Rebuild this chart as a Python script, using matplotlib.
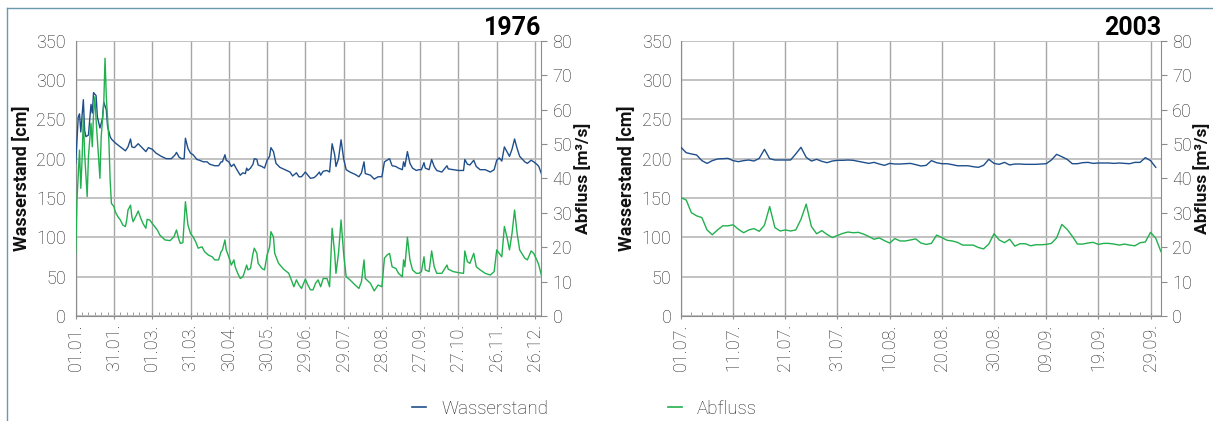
import matplotlib.pyplot as plt
from matplotlib.lines import Line2D
from matplotlib.ticker import MultipleLocator

plt.rcParams['font.family'] = ['Roboto', 'DejaVu Sans']
plt.rcParams['font.weight'] = 'light'

# ---- 1976: Tage ab 01.01. ----
tage_w_1976 = [0, 2, 3, 4, 6, 7, 8, 10, 12, 13, 14, 16, 17, 19, 21, 22, 24, 25, 27, 28,
               31, 35, 39, 41, 43, 44, 46, 49, 52, 55, 57, 60, 63, 67, 71, 75, 78, 79, 81, 83,
               85, 86, 88, 90, 92, 95, 97, 100, 103, 105, 109, 112, 114, 115, 117, 118, 120, 122, 124, 126,
               129, 131, 133, 134, 135, 137, 139, 140, 142, 143, 146, 148, 150, 152, 153, 155, 157, 160, 164, 168,
               170, 173, 175, 177, 180, 182, 184, 187, 189, 191, 192, 194, 197, 199, 201, 203, 204, 206, 208, 210,
               212, 215, 219, 222, 224, 226, 227, 231, 234, 237, 240, 242, 244, 246, 248, 251, 253, 256, 257, 258,
               260, 262, 264, 267, 269, 271, 273, 274, 277, 279, 281, 283, 287, 291, 292, 296, 300, 304, 305, 307,
               309, 312, 314, 317, 321, 325, 328, 330, 332, 334, 336, 338, 340, 342, 344, 346, 348, 352, 354, 357,
               359, 362, 363, 365]
wasserstand_1976 = [194, 253, 257, 234, 275, 236, 228, 230, 269, 258, 284, 280, 253, 239, 251, 272, 262, 241, 228, 225,
                    220, 215, 210, 215, 225, 215, 214, 219, 214, 209, 214, 212, 207, 203, 200, 200, 205, 208, 202, 200,
                    200, 226, 213, 207, 205, 199, 198, 196, 196, 193, 191, 191, 196, 196, 205, 198, 196, 190, 193, 187,
                    179, 182, 181, 188, 185, 188, 193, 200, 199, 192, 190, 188, 198, 203, 214, 209, 194, 189, 186, 183,
                    178, 182, 177, 177, 183, 179, 175, 176, 179, 183, 179, 184, 185, 183, 219, 205, 190, 200, 224, 200,
                    186, 183, 180, 177, 182, 196, 181, 179, 174, 177, 177, 196, 198, 200, 191, 190, 188, 186, 196, 190,
                    209, 194, 188, 185, 186, 186, 195, 188, 186, 199, 190, 185, 183, 191, 187, 186, 185, 185, 199, 193,
                    192, 198, 190, 186, 186, 183, 186, 198, 201, 197, 215, 209, 203, 212, 225, 213, 203, 196, 194, 198,
                    196, 192, 190, 181]

tage_q_1976 = [0, 1, 3, 4, 5, 6, 7, 9, 10, 12, 13, 14, 15, 16, 18, 19, 20, 22, 23, 24,
               26, 27, 28, 30, 31, 33, 35, 37, 39, 40, 41, 43, 44, 45, 47, 49, 51, 53, 55, 56,
               58, 60, 64, 66, 70, 74, 77, 79, 81, 82, 84, 86, 88, 90, 92, 94, 96, 99, 101, 104,
               107, 109, 112, 114, 115, 117, 118, 120, 122, 124, 125, 127, 129, 131, 132, 134, 135, 137, 139, 140,
               142, 143, 145, 146, 148, 150, 152, 153, 155, 156, 159, 163, 167, 169, 171, 173, 175, 177, 180, 182,
               184, 186, 188, 190, 192, 194, 197, 199, 201, 203, 204, 206, 208, 210, 212, 215, 219, 222, 224, 226,
               227, 231, 234, 237, 240, 242, 244, 246, 248, 251, 253, 256, 257, 258, 260, 262, 264, 267, 269, 271,
               273, 274, 277, 279, 281, 283, 287, 291, 292, 296, 300, 304, 305, 307, 309, 312, 314, 317, 321, 325,
               328, 330, 332, 334, 336, 338, 340, 342, 344, 346, 348, 352, 354, 357, 359, 362, 363, 365]
abfluss_1976 = [18.2, 33.7, 48.2, 37.1, 45.3, 57.9, 47.3, 34.7, 46.3, 56.0, 49.2, 58.9, 63.7, 56.9, 45.3, 40.0, 52.1, 61.8, 74.9, 63.7,
                51.1, 39.5, 32.7, 31.8, 30.3, 28.9, 27.9, 26.4, 26.0, 27.9, 30.8, 32.2, 28.9, 27.4, 28.9, 30.5, 28.4, 26.7, 25.5, 28.1,
                27.9, 26.9, 25.0, 23.5, 22.1, 21.9, 23.0, 25.0, 22.1, 21.1, 21.3, 33.2, 26.4, 24.0, 23.0, 21.6, 19.7, 20.1, 18.7, 17.7,
                17.2, 16.3, 16.3, 18.7, 19.2, 22.1, 19.2, 17.2, 14.8, 16.3, 14.3, 12.4, 10.9, 11.4, 12.4, 14.8, 13.4, 13.8, 18.2, 19.7,
                18.2, 15.3, 14.3, 13.8, 13.4, 17.7, 20.1, 24.5, 23.0, 18.2, 15.3, 13.6, 12.4, 10.5, 8.5, 10.5, 9.0, 8.0, 10.7, 9.0,
                7.6, 7.6, 9.5, 10.5, 8.5, 10.9, 10.9, 8.5, 25.5, 18.2, 12.4, 18.2, 27.9, 18.2, 11.4, 10.5, 9.0, 8.0, 10.0, 16.3,
                10.9, 9.5, 7.3, 9.0, 8.5, 16.8, 17.7, 18.2, 14.3, 13.8, 12.4, 11.4, 16.3, 14.3, 22.9, 16.3, 13.4, 12.4, 12.4, 12.9,
                17.2, 13.4, 12.9, 18.9, 14.3, 12.4, 12.4, 14.8, 13.6, 12.9, 12.6, 12.4, 18.9, 15.8, 15.3, 18.2, 14.3, 13.4, 12.4, 11.9,
                12.9, 19.2, 18.2, 17.2, 26.0, 23.0, 19.2, 24.0, 30.8, 24.0, 19.2, 16.8, 16.3, 18.9, 18.2, 15.8, 14.8, 11.9]

ticks_1976 = [0, 30, 60, 90, 120, 150, 180, 210, 240, 270, 300, 330, 360]
labels_1976 = ["01.01.", "31.01.", "01.03.", "31.03.", "30.04.", "30.05.", "29.06.",
               "29.07.", "28.08.", "27.09.", "27.10.", "26.11.", "26.12."]

# ---- 2003: Tageswerte ab 01.07. ----
wasserstand_2003 = [214.4, 207.6, 206.0, 204.7, 197.5, 194.0, 197.5, 199.6, 200.0, 200.4,
                    197.5, 196.2, 197.5, 198.3, 197.0, 200.4, 211.9, 200.0, 198.3, 198.3,
                    198.3, 198.3, 206.0, 214.4, 201.7, 197.0, 199.2, 196.6, 194.9, 197.0,
                    197.9, 197.9, 198.3, 197.9, 196.6, 195.3, 194.0, 195.3, 193.2, 191.5,
                    194.0, 193.2, 193.2, 193.6, 194.0, 192.4, 190.7, 191.5, 197.5, 194.9,
                    193.6, 193.6, 192.4, 191.0, 191.0, 191.0, 189.8, 189.0, 191.5, 199.2,
                    194.0, 192.8, 195.3, 192.0, 193.2, 193.2, 192.8, 192.8, 192.8, 193.2,
                    193.6, 198.3, 205.5, 202.5, 199.2, 193.6, 193.6, 194.9, 195.3, 194.0,
                    194.5, 194.5, 194.5, 194.0, 194.5, 194.0, 193.6, 195.3, 195.3, 201.3,
                    197.5, 189.0]
abfluss_2003 = [34.4, 33.7, 30.0, 29.1, 28.6, 25.0, 23.6, 25.0, 26.2, 26.2,
                26.5, 25.2, 24.2, 25.0, 25.4, 24.6, 26.4, 31.8, 25.7, 24.7,
                25.0, 24.7, 25.0, 28.1, 32.5, 26.0, 23.9, 24.8, 23.7, 22.8,
                23.4, 24.0, 24.4, 24.2, 24.3, 23.8, 23.1, 22.3, 22.7, 21.9,
                21.2, 22.5, 21.8, 21.8, 22.1, 22.4, 21.2, 20.8, 21.1, 23.5,
                22.8, 22.0, 21.8, 21.4, 20.6, 20.6, 20.6, 19.9, 19.5, 20.9,
                23.9, 22.1, 21.3, 22.3, 20.3, 21.0, 21.0, 20.4, 20.7, 20.7,
                20.8, 21.1, 22.7, 26.6, 25.2, 23.2, 20.9, 20.9, 21.2, 21.4,
                20.8, 21.1, 21.1, 20.9, 20.6, 20.9, 20.6, 20.4, 21.3, 21.5,
                24.3, 22.6, 18.7]

ticks_2003 = [0, 10, 20, 30, 40, 50, 60, 70, 80, 90]
labels_2003 = ["01.07.", "11.07.", "21.07.", "31.07.", "10.08.", "20.08.",
               "30.08.", "09.09.", "19.09.", "29.09."]

BLAU = '#1f4f8b'
GRUEN = '#22b04e'
GRAU = '#8c8c8c'
TEXT = '#222222'


def panel(rect, tw, w, tq, q, ticks, labels, xmax, minor, titel):
    ax = fig.add_axes(rect)
    ax.plot(tw, w, color=BLAU, lw=1.0, zorder=3)
    ax.set_xlim(0, xmax)
    ax.set_ylim(0, 350)
    ax.set_yticks(range(0, 351, 50))
    ax.set_xticks(ticks)
    ax.set_xticklabels(labels, rotation=90)
    ax.xaxis.set_minor_locator(MultipleLocator(minor))
    ax.grid(True, axis='y', color='#bdbdbd', lw=1.3)
    ax.grid(True, axis='x', color='#a6a6a6', lw=1.0)
    ax.set_axisbelow(True)
    for s in ['top', 'right']:
        ax.spines[s].set_visible(False)
    for s in ['left', 'bottom']:
        ax.spines[s].set_color(GRAU)
    ax.tick_params(axis='y', length=0, pad=7, labelsize=13, labelcolor=TEXT)
    ax.tick_params(axis='x', which='major', length=5, direction='inout', color=GRAU,
                   pad=3, labelsize=13, labelcolor=TEXT)
    ax.tick_params(axis='x', which='minor', length=3, direction='in', color=GRAU)
    ax.set_ylabel("Wasserstand [cm]", fontsize=13, fontweight='bold', labelpad=4, color='#111111')
    ax.set_title(titel, loc='right', fontsize=18, fontweight='bold', pad=4)

    ax2 = ax.twinx()
    ax2.plot(tq, q, color=GRUEN, lw=1.0)
    ax2.set_ylim(0, 80)
    ax2.set_yticks(range(0, 81, 10))
    for s in ['top', 'left', 'bottom']:
        ax2.spines[s].set_visible(False)
    ax2.spines['right'].set_color(GRAU)
    ax2.tick_params(axis='y', length=4, color=GRAU, pad=4, labelsize=13, labelcolor=TEXT)
    ax2.set_ylabel("Abfluss [m³/s]", fontsize=12.5, fontweight='bold', labelpad=1, color='#111111')
    return ax


fig = plt.figure(figsize=(12.13, 4.21), dpi=100)

panel([0.0624, 0.2494, 0.3839, 0.6540], tage_w_1976, wasserstand_1976, tage_q_1976, abfluss_1976,
      ticks_1976, labels_1976, 365, 5, "1976")
panel([0.5614, 0.2494, 0.3957, 0.6540], range(len(wasserstand_2003)), wasserstand_2003,
      range(len(abfluss_2003)), abfluss_2003, ticks_2003, labels_2003, 92, 2, "2003")

# Rahmenlinien
fig.add_artist(Line2D([0.0058, 1.0], [0.981, 0.981], transform=fig.transFigure, color='#6a98ad', lw=1))
fig.add_artist(Line2D([0.0058, 0.0058], [0.0, 0.981], transform=fig.transFigure, color='#6a98ad', lw=1))

handles = [Line2D([], [], color=BLAU, lw=1.2), Line2D([], [], color=GRUEN, lw=1.2)]
leg = fig.legend(handles, ["Wasserstand", "Abfluss"], loc='center', bbox_to_anchor=(0.482, 0.0285),
                 ncol=2, frameon=False, fontsize=13.5, handlelength=0.75, handletextpad=0.8,
                 columnspacing=6.4)
for t in leg.get_texts():
    t.set_color(TEXT)

fig.savefig("out.png", dpi=100)
